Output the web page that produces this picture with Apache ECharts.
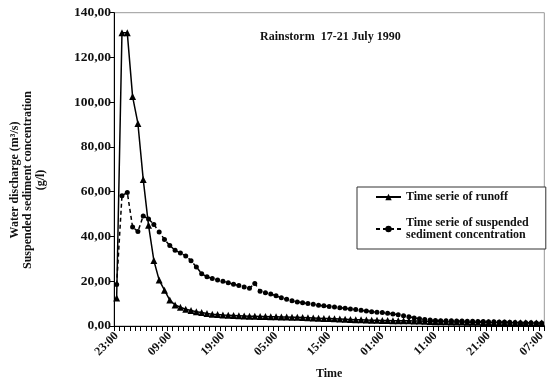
<!DOCTYPE html>
<html><head><meta charset="utf-8">
<script src="https://cdn.jsdelivr.net/npm/echarts@6/dist/echarts.min.js"></script>
<style>html,body{margin:0;padding:0;background:#fff}#c{width:548px;height:385px}</style>
</head><body><div id="c"></div>
<script>
const categories = ["23:00","00:00","01:00","02:00","03:00","04:00","05:00","06:00","07:00","08:00",
"09:00","10:00","11:00","12:00","13:00","14:00","15:00","16:00","17:00","18:00",
"19:00","20:00","21:00","22:00","23:00","00:00","01:00","02:00","03:00","04:00",
"05:00","06:00","07:00","08:00","09:00","10:00","11:00","12:00","13:00","14:00",
"15:00","16:00","17:00","18:00","19:00","20:00","21:00","22:00","23:00","00:00",
"01:00","02:00","03:00","04:00","05:00","06:00","07:00","08:00","09:00","10:00",
"11:00","12:00","13:00","14:00","15:00","16:00","17:00","18:00","19:00","20:00",
"21:00","22:00","23:00","00:00","01:00","02:00","03:00","04:00","05:00","06:00",
"07:00"];
const runoff = [12.5,131,131,102.5,90.5,65.5,45,29.3,20.5,16,
11.6,9.4,8.4,7.5,6.9,6.4,6.0,5.6,5.3,5.1,
4.9,4.8,4.7,4.6,4.5,4.4,4.4,4.3,4.2,4.1,
4.1,4.0,4.0,3.9,3.9,3.8,3.7,3.6,3.5,3.4,
3.3,3.2,3.1,3.0,2.9,2.8,2.8,2.7,2.6,2.6,
2.5,2.5,2.4,2.4,2.3,2.3,2.2,2.2,2.1,2.0,
1.9,1.9,1.9,1.8,1.8,1.8,1.7,1.7,1.7,1.6,
1.6,1.6,1.5,1.5,1.5,1.4,1.4,1.4,1.3,1.3,1.3];
const sediment = [18.5,58.2,59.7,44.2,42.2,49.2,47.8,45.4,42,38.7,
36,33.8,32.6,31.3,29.2,26.4,23.4,22,21.2,20.6,
20,19.3,18.7,18.1,17.4,16.9,19,15.5,14.9,14.3,
13.5,12.6,12,11.3,10.7,10.4,10.0,9.7,9.3,9.0,
8.7,8.5,8.2,7.9,7.6,7.4,7.0,6.7,6.4,6.2,
6.0,5.7,5.4,5.0,4.6,4.1,3.6,3.2,2.9,2.7,
2.5,2.4,2.3,2.3,2.2,2.2,2.1,2.1,2.0,2.0,
1.9,1.9,1.8,1.8,1.7,1.6,1.5,1.5,1.4,1.3,1.3];
const yMin = 0, yMax = 140, yStep = 20;
const seriesNames = ['Time serie of runoff', 'Time serie of suspended\nsediment concentration'];
const titleText = 'Rainstorm  17-21 July 1990';
const yName = 'Water discharge (m\u00b3/s)\nSuspended sediment concentration\n(g/l)';

const font = 'Liberation Serif';
const chart = echarts.init(document.getElementById('c'));
chart.setOption({
  animation: false,
  textStyle: {fontFamily: font},
  grid: {left: 114, top: 12.7, width: 436, height: 315, show: true, borderColor: '#999', borderWidth: 1},
  xAxis: {
    type: 'category', data: categories, boundaryGap: true,
    axisLine: {lineStyle: {color: '#000', width: 1}},
    axisTick: {show: true, interval: 0, length: 5, lineStyle: {color: '#000'}},
    axisLabel: {interval: 9, rotate: 45, fontFamily: font, fontWeight: 'bold', fontSize: 12, color: '#111', margin: 8},
    name: 'Time', nameLocation: 'middle', nameGap: 42,
    nameTextStyle: {fontFamily: font, fontWeight: 'bold', fontSize: 12, color: '#111'}
  },
  yAxis: {
    type: 'value', min: yMin, max: yMax, interval: yStep,
    splitLine: {show: false},
    axisLine: {show: true, lineStyle: {color: '#000', width: 1}},
    axisTick: {show: true, length: 4, lineStyle: {color: '#000'}},
    axisLabel: {fontFamily: font, fontWeight: 'bold', fontSize: 13.5, color: '#111', margin: 3,
      formatter: v => v.toFixed(2).replace('.', ',')}
  },
  legend: {
    orient: 'vertical', left: 357, top: 187, padding: [4, 17, 2, 18], itemGap: 8,
    itemWidth: 25, itemHeight: 8, borderColor: '#333', borderWidth: 1, backgroundColor: '#fff',
    textStyle: {fontFamily: font, fontWeight: 'bold', fontSize: 12, color: '#111'},
    data: [
      {name: seriesNames[0]},
      {name: seriesNames[1], textStyle: {padding: [12, 0, 0, 0], lineHeight: 12}}
    ]
  },
  graphic: [
    {type: 'text', x: 260, y: 31, style: {text: titleText, font: 'bold 12px "Liberation Serif"', fill: '#111'}},
    {type: 'text', x: 28, y: 180, rotation: Math.PI / 2,
      style: {text: yName, font: 'bold 12px "Liberation Serif"', fill: '#111', align: 'center', verticalAlign: 'middle', lineHeight: 13}}
  ],
  series: [
    {name: seriesNames[0], type: 'line', data: runoff, showAllSymbol: true,
      symbol: 'triangle', symbolSize: 7,
      lineStyle: {color: '#000', width: 1.5}, itemStyle: {color: '#000'}},
    {name: seriesNames[1], type: 'line', data: sediment, showAllSymbol: true,
      symbol: 'circle', symbolSize: 5,
      lineStyle: {color: '#000', width: 1.5, type: [4, 3]}, itemStyle: {color: '#000'}}
  ]
});
</script></body></html>
